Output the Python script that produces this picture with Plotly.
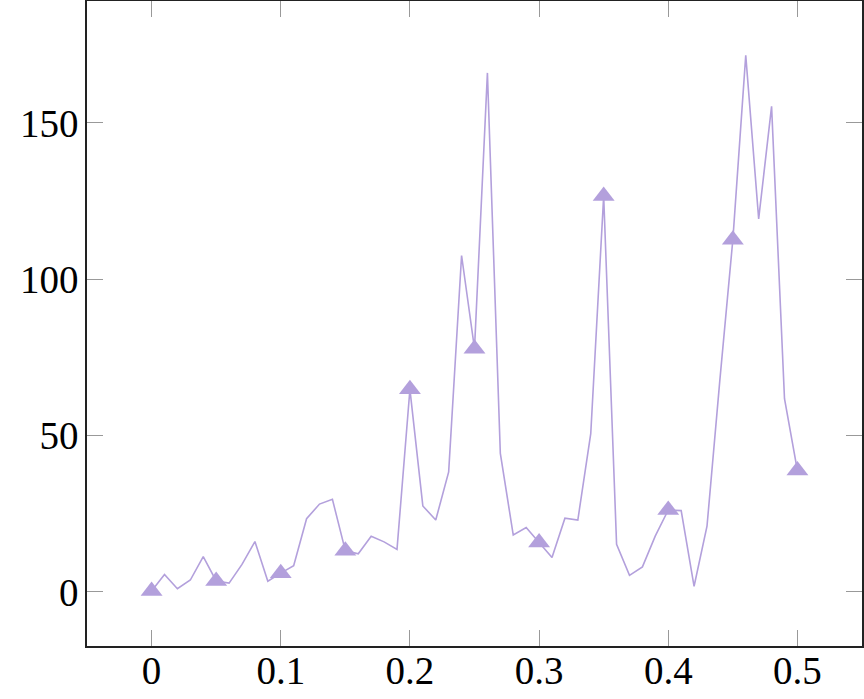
import plotly.graph_objects as go

x_vals = [round(i * 0.01, 2) for i in range(51)]
y_vals = [0.3, 5.6, 1.0, 3.8, 11.3, 3.5, 2.8, 8.8, 16.1, 3.4,
          6.0, 8.4, 23.4, 28.1, 29.6, 13.2, 12.2, 17.8, 16.0, 13.6,
          64.8, 27.5, 23.0, 38.4, 107.6, 77.8, 166.0, 44.3, 18.2, 20.6,
          15.8, 11.0, 23.6, 23.0, 50.6, 126.6, 15.2, 5.3, 8.0, 17.9,
          26.2, 26.0, 1.8, 21.0, 68.0, 112.6, 171.6, 119.3, 155.3, 61.8,
          38.8]
marker_x = x_vals[::5]
marker_y = y_vals[::5]

xtick_vals = [0, 0.1, 0.2, 0.3, 0.4, 0.5]
xtick_text = ["0", "0.1", "0.2", "0.3", "0.4", "0.5"]
ytick_vals = [0, 50, 100, 150]
ytick_text = ["0", "50", "100", "150"]

color = "rgb(179,160,220)"

fig = go.Figure()
fig.add_trace(go.Scatter(x=x_vals, y=y_vals, mode="lines",
                         line=dict(color=color, width=1.6), showlegend=False,
                         hoverinfo="skip"))
fig.add_trace(go.Scatter(x=marker_x, y=marker_y, mode="markers",
                         marker=dict(symbol="triangle-up", size=19, color=color,
                                     line=dict(width=0)),
                         showlegend=False))

font = dict(family="Liberation Serif, DejaVu Serif, serif", size=39, color="black")
axis_common = dict(showline=True, linecolor="#222", linewidth=1.6, mirror="allticks",
                   ticks="inside", ticklen=16, tickcolor="#999", tickwidth=1,
                   showgrid=False, zeroline=False, tickfont=font, automargin=False)

fig.update_xaxes(range=[-0.05, 0.55], tickvals=xtick_vals, ticktext=xtick_text,
                 ticklabelstandoff=-11, **axis_common)
fig.update_yaxes(range=[-17.3, 189], tickvals=ytick_vals, ticktext=ytick_text,
                 ticklabelstandoff=-1, **axis_common)

fig.update_layout(width=864, height=699, margin=dict(l=87, r=2, t=1, b=53),
                  plot_bgcolor="white", paper_bgcolor="white")

fig.write_html("out.html", post_script="document.body.style.margin='0px';",
               config={"displayModeBar": False})
